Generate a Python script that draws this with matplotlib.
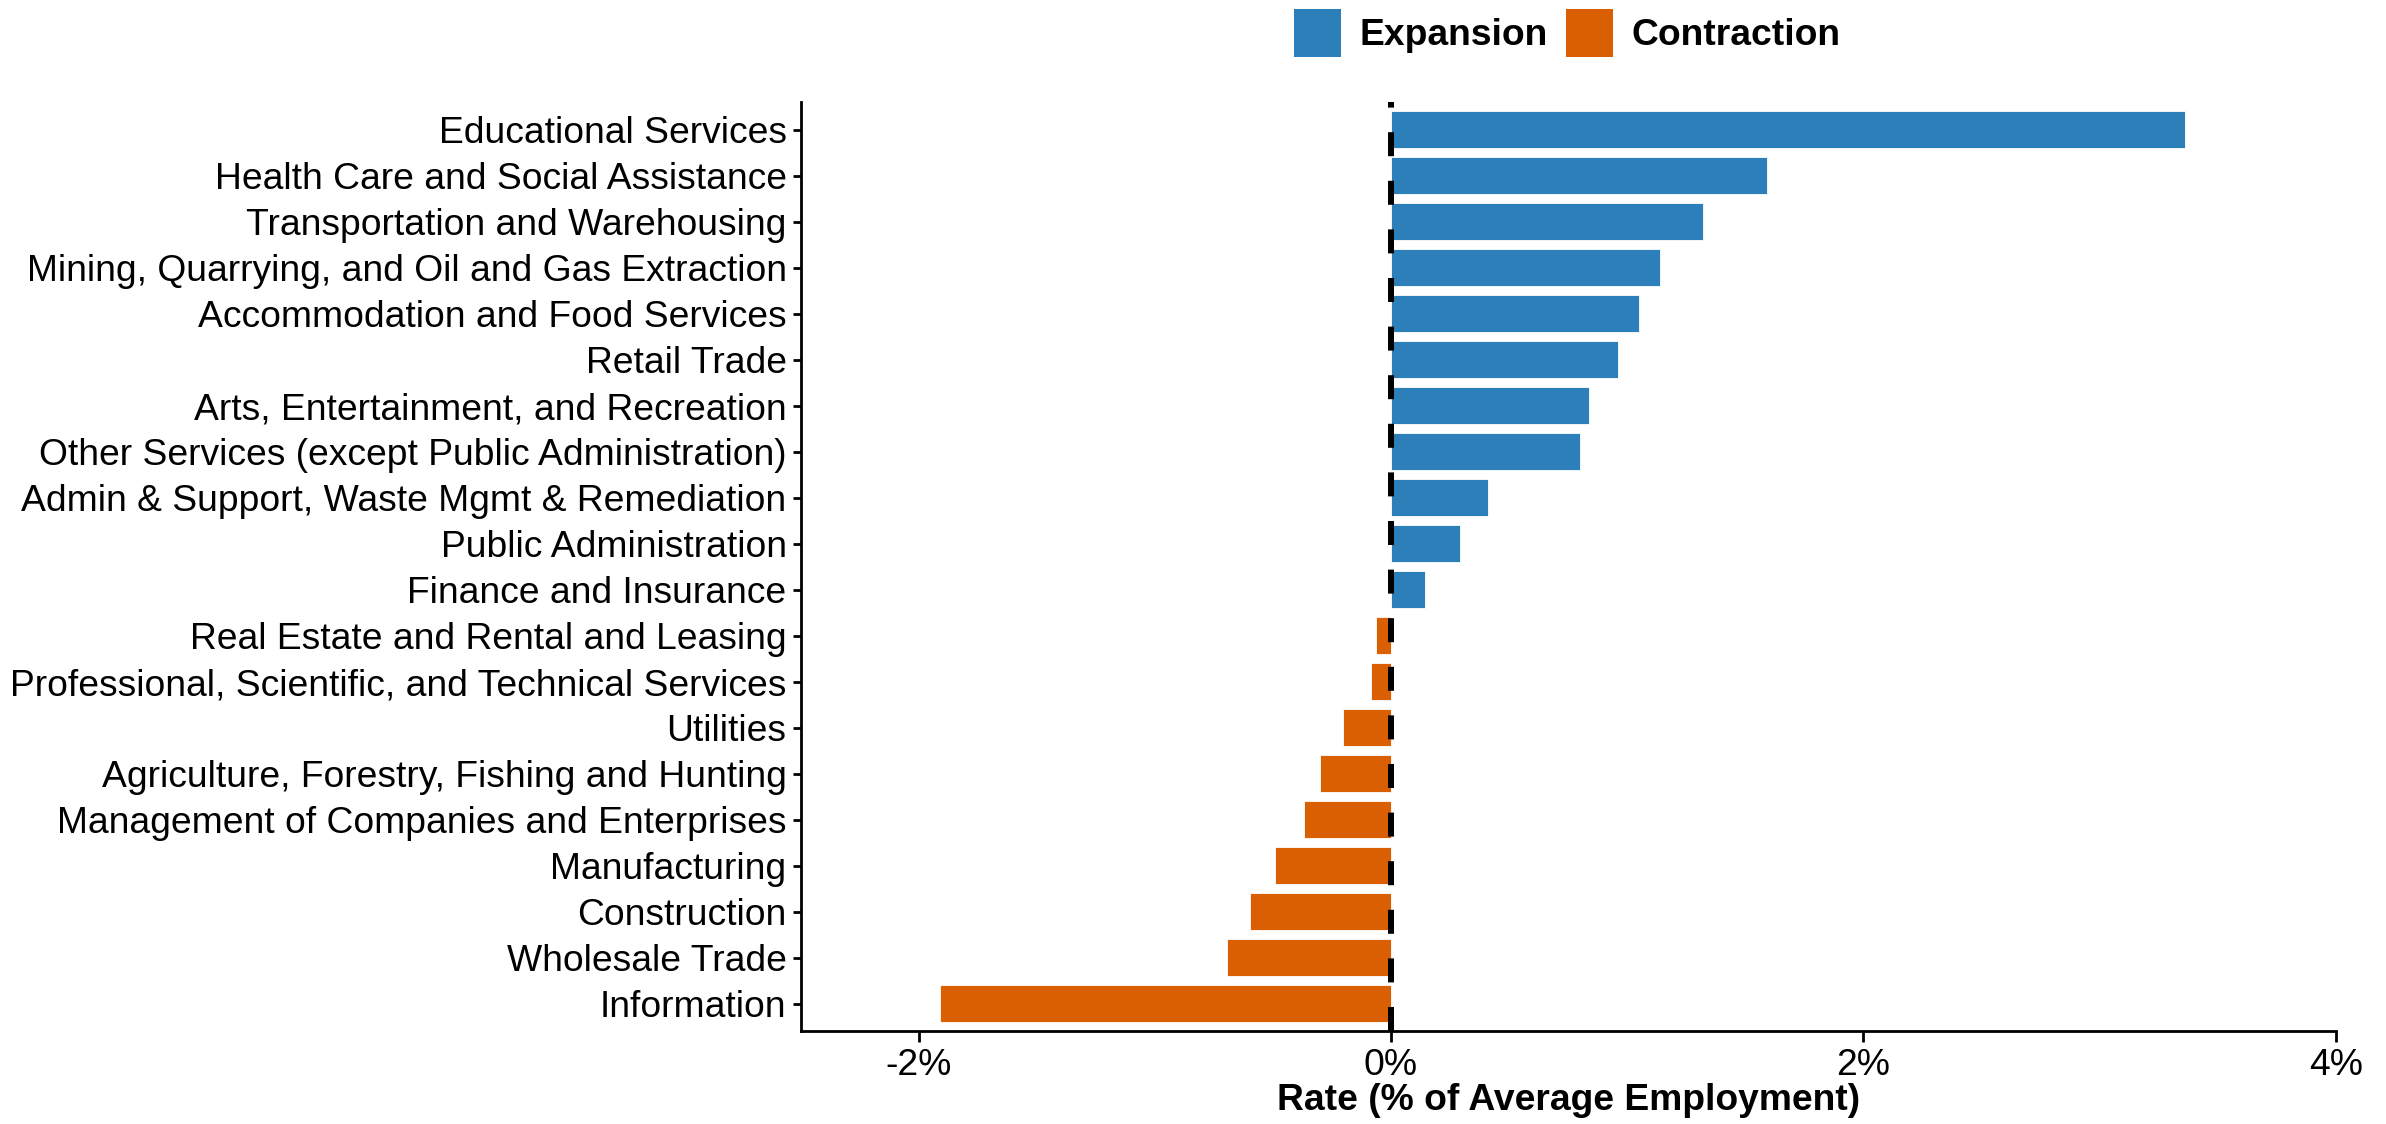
import matplotlib.pyplot as plt
from matplotlib.patches import Patch

plt.rcParams['font.family'] = ['Liberation Sans', 'DejaVu Sans']

industries = [
    "Educational Services",
    "Health Care and Social Assistance",
    "Transportation and Warehousing",
    "Mining, Quarrying, and Oil and Gas Extraction",
    "Accommodation and Food Services",
    "Retail Trade",
    "Arts, Entertainment, and Recreation",
    "Other Services (except Public Administration)",
    "Admin & Support, Waste Mgmt & Remediation",
    "Public Administration",
    "Finance and Insurance",
    "Real Estate and Rental and Leasing",
    "Professional, Scientific, and Technical Services",
    "Utilities",
    "Agriculture, Forestry, Fishing and Hunting",
    "Management of Companies and Enterprises",
    "Manufacturing",
    "Construction",
    "Wholesale Trade",
    "Information",
]
rates = [3.36, 1.59, 1.32, 1.14, 1.05, 0.96, 0.84, 0.80, 0.41, 0.29, 0.145,
         -0.063, -0.085, -0.205, -0.30, -0.367, -0.492, -0.596, -0.693, -1.91]

blue = "#2C7FB8"
orange = "#D95F02"
fs = 13.4

fig = plt.figure(figsize=(11.93, 5.62), dpi=200)
ax = fig.add_axes([0.3355, 0.0825, 0.979 - 0.3355, 0.909 - 0.0825])

n = len(industries)
ypos = [n - 1 - i for i in range(n)]
colors = [blue if r > 0 else orange for r in rates]
ax.barh(ypos, rates, height=0.8, color=colors, edgecolor="white", linewidth=0.3, zorder=2)
# zero reference line, dashes start from the bottom of the panel
ax.axvline(0, color="black", linewidth=2.16, linestyle=(0, (4, 4.1)), zorder=3)

ax.set_yticks(ypos)
ax.set_yticklabels(industries, fontsize=fs, color="black")
ax.set_ylim(-0.6, n - 0.4)
ax.set_xlim(-2.5, 4.0)
ax.set_xticks([-2, 0, 2, 4])
ax.set_xticklabels(["-2%", "0%", "2%", "4%"], fontsize=fs, color="black")
ax.set_xlabel("Rate (% of Average Employment)", fontsize=fs, fontweight="bold", labelpad=0)

for side in ["top", "right"]:
    ax.spines[side].set_visible(False)
for side in ["left", "bottom"]:
    ax.spines[side].set_linewidth(1.0)
ax.tick_params(axis="y", length=3, width=1.0, pad=2)
ax.tick_params(axis="x", length=4, width=1.0, pad=2)

handles = [Patch(facecolor=blue, label="Expansion"), Patch(facecolor=orange, label="Contraction")]
leg = fig.legend(handles=handles, loc="upper center", bbox_to_anchor=(0.6568, 1.022), ncol=2,
                 frameon=False, prop={"size": fs, "weight": "bold"},
                 handlelength=1.25, handleheight=1.6, handletextpad=0.5, columnspacing=0.5)

fig.savefig("out.png", dpi=200)
